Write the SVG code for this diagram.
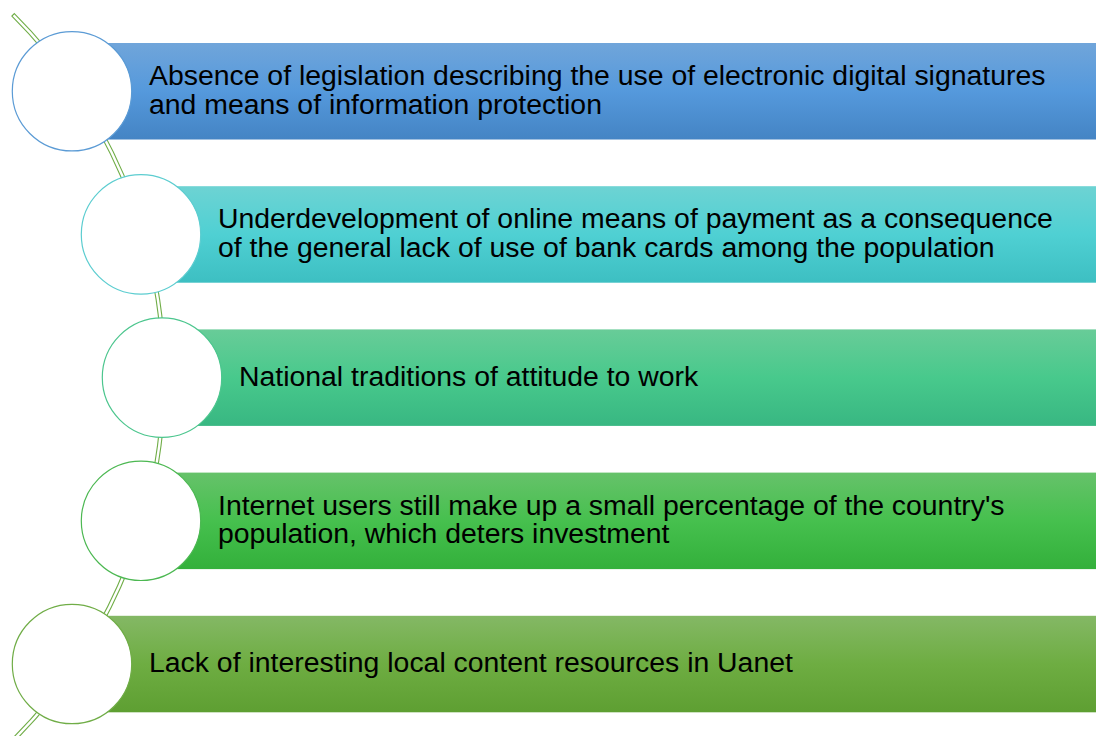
<svg xmlns="http://www.w3.org/2000/svg" width="1096" height="736" viewBox="0 0 1096 736">
<defs>
<linearGradient id="g1" x1="0" y1="0" x2="0" y2="1"><stop offset="0" stop-color="#70a5da"/><stop offset="0.5" stop-color="#5599dc"/><stop offset="1" stop-color="#4484c4"/></linearGradient>
<linearGradient id="g2" x1="0" y1="0" x2="0" y2="1"><stop offset="0" stop-color="#6dd3d3"/><stop offset="0.5" stop-color="#4fd0d3"/><stop offset="1" stop-color="#3dbfc2"/></linearGradient>
<linearGradient id="g3" x1="0" y1="0" x2="0" y2="1"><stop offset="0" stop-color="#68cc98"/><stop offset="0.5" stop-color="#48c98c"/><stop offset="1" stop-color="#38b782"/></linearGradient>
<linearGradient id="g4" x1="0" y1="0" x2="0" y2="1"><stop offset="0" stop-color="#66c26a"/><stop offset="0.5" stop-color="#46c04e"/><stop offset="1" stop-color="#33b03b"/></linearGradient>
<linearGradient id="g5" x1="0" y1="0" x2="0" y2="1"><stop offset="0" stop-color="#84b865"/><stop offset="0.5" stop-color="#6ead42"/><stop offset="1" stop-color="#5e9f32"/></linearGradient>
</defs>
<style>
text{font-family:"Liberation Sans",Arial,sans-serif;font-size:28.4px;fill:#000}
.c{fill:#fff;stroke-width:1.2}
</style>
<rect width="1096" height="736" fill="#fff"/>
<g id="connectors">
<path d="M 14.36 13.56 A 513.75 513.75 0 0 1 9.42 746.27 L 6.99 743.76 A 510.25 510.25 0 0 0 11.89 16.04 Z" fill="#fff" stroke="#70ad47" stroke-width="1.1"/>
</g>
<g id="node1">
<rect x="72" y="43" width="1024" height="96.5" fill="url(#g1)"/>
<circle class="c" cx="72" cy="91.25" r="59.7" stroke="#5b9bd5"/>
<text x="149" y="85.3">Absence of legislation describing the use of electronic digital signatures</text>
<text x="149" y="114">and means of information protection</text>
</g>
<g id="node2">
<rect x="141" y="186.2" width="955" height="96.5" fill="url(#g2)"/>
<circle class="c" cx="141" cy="234.4" r="59.7" stroke="#5ccdd0"/>
<text x="218" y="228.4">Underdevelopment of online means of payment as a consequence</text>
<text x="218" y="257.1">of the general lack of use of bank cards among the population</text>
</g>
<g id="node3">
<rect x="162" y="329.4" width="934" height="96.5" fill="url(#g3)"/>
<circle class="c" cx="162" cy="377.6" r="59.7" stroke="#4cc68e"/>
<text x="239" y="386">National traditions of attitude to work</text>
</g>
<g id="node4">
<rect x="141" y="472.6" width="955" height="96.5" fill="url(#g4)"/>
<circle class="c" cx="141" cy="520.8" r="59.7" stroke="#4cb852"/>
<text x="218" y="514.8">Internet users still make up a small percentage of the country's</text>
<text x="218" y="543.4">population, which deters investment</text>
</g>
<g id="node5">
<rect x="72" y="615.8" width="1024" height="96.5" fill="url(#g5)"/>
<circle class="c" cx="72" cy="664" r="59.7" stroke="#70ad47"/>
<text x="149" y="672">Lack of interesting local content resources in Uanet</text>
</g>
</svg>
